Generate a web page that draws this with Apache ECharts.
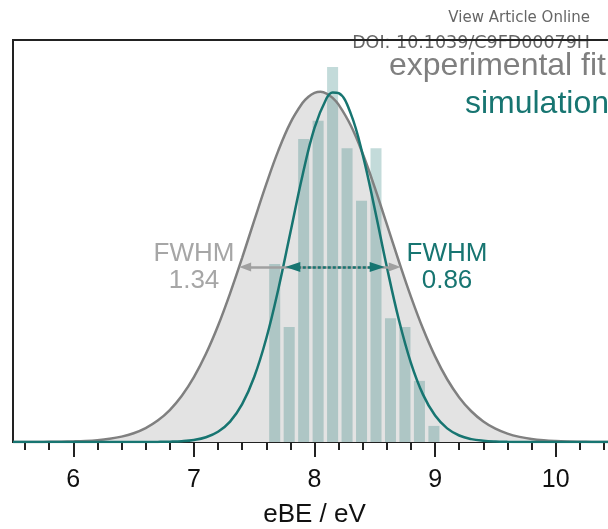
<!DOCTYPE html>
<html>
<head>
<meta charset="utf-8">
<script src="https://cdn.jsdelivr.net/npm/echarts@6/dist/echarts.min.js"></script>
<style>html,body{margin:0;padding:0;background:#fff}#c{width:608px;height:529px}</style>
</head>
<body>
<div id="c"></div>
<script>
// ---- data ----
const majorTicks = [6, 7, 8, 9, 10];
const minorTicks = [5.6, 5.8, 6.2, 6.4, 6.6, 6.8, 7.2, 7.4, 7.6, 7.8, 8.2, 8.4, 8.6, 8.8, 9.2, 9.4, 9.6, 9.8, 10.2, 10.4];
const barCentres = [7.67, 7.79, 7.91, 8.03, 8.15, 8.27, 8.39, 8.51, 8.63, 8.75, 8.87, 8.99];
const barHeights = [0.443, 0.286, 0.754, 0.799, 0.933, 0.731, 0.600, 0.731, 0.308, 0.286, 0.152, 0.040];
const expX = [5.5,5.6,5.7,5.8,5.9,6.0,6.1,6.2,6.3,6.4,6.5,6.6,6.7,6.8,6.9,7.0,7.1,7.2,7.3,7.4,7.5,7.6,7.7,7.8,7.9,7.95,8.0,8.05,8.1,8.15,8.2,8.3,8.4,8.5,8.6,8.7,8.8,8.9,9.0,9.1,9.2,9.3,9.4,9.5,9.6,9.7,9.8,9.9,10.0,10.1,10.2,10.3,10.4,10.5];
const expY = [0.0000,0.0001,0.0002,0.0004,0.0007,0.0014,0.0025,0.0045,0.0079,0.0133,0.0218,0.0346,0.0533,0.0795,0.1150,0.1613,0.2193,0.2891,0.3697,0.4582,0.5506,0.6415,0.7248,0.7939,0.8431,0.8590,0.8683,0.8710,0.8669,0.8562,0.8393,0.7878,0.7170,0.6327,0.5412,0.4490,0.3612,0.2817,0.2130,0.1561,0.1110,0.0765,0.0511,0.0331,0.0208,0.0127,0.0075,0.0043,0.0024,0.0013,0.0007,0.0003,0.0002,0.0001];
const simX = [5.5,6.0,6.5,6.6,6.7,6.8,6.9,7.0,7.1,7.2,7.3,7.4,7.5,7.6,7.7,7.8,7.9,8.0,8.1,8.15,8.2,8.3,8.4,8.5,8.6,8.7,8.8,8.9,9.0,9.1,9.2,9.3,9.4,9.5,9.6,9.7,10.0,10.5];
const simY = [0,0,0,0.0001,0.0003,0.0008,0.0020,0.0051,0.0119,0.0255,0.0508,0.0941,0.1616,0.2574,0.3802,0.5210,0.6625,0.7815,0.8552,0.8697,0.8680,0.8175,0.7142,0.5788,0.4351,0.3035,0.1964,0.1179,0.0657,0.0339,0.0162,0.0072,0.0030,0.0011,0.0004,0.0001,0,0];
const expCentre = 8.045, expFWHM = 1.34, expHalf = 0.4355;
const simCentre = 8.17, simFWHM = 0.86, simHalf = 0.4355;
const legendNames = ['experimental fit', 'simulation'];
const fwhmTitle = 'FWHM';
const fwhmValues = ['1.34', '0.86'];

const zip = (a, b) => a.map((v, i) => [v, b[i]]);
const GREY = '#808080', TEAL = '#177571';

const chart = echarts.init(document.getElementById('c'), null, {renderer: 'canvas'});
chart.setOption({
  animation: false,
  grid: {left: 13, top: 40, right: -8, bottom: 87, outerBoundsMode: 'none', containLabel: false,
         show: true, borderColor: '#222', borderWidth: 2, backgroundColor: 'transparent'},
  xAxis: [{
    type: 'value', min: 5.5, max: 10.5,
    name: 'eBE / eV', nameLocation: 'middle', nameGap: 60,
    nameTextStyle: {fontFamily: 'Liberation Sans', fontSize: 26, color: '#111'},
    axisLine: {show: true, lineStyle: {color: '#222', width: 2}},
    axisTick: {show: true, inside: false, length: 15, customValues: majorTicks, lineStyle: {color: '#222', width: 2}},
    axisLabel: {show: true, customValues: majorTicks, margin: 26, fontFamily: 'Liberation Sans', fontSize: 25, color: '#111'},
    splitLine: {show: false}
  }, {
    type: 'value', min: 5.5, max: 10.5, position: 'bottom',
    axisLine: {show: false},
    axisTick: {show: true, inside: false, length: 8, customValues: minorTicks, lineStyle: {color: '#222', width: 2}},
    axisLabel: {show: false},
    splitLine: {show: false}
  }],
  yAxis: {type: 'value', min: 0, max: 1, show: false},
  series: [
    {type: 'line', z: 1, data: zip(expX, expY), smooth: 0.4, showSymbol: false, symbol: 'none',
     lineStyle: {width: 0, opacity: 0}, areaStyle: {color: '#e3e3e3', opacity: 1}},
    {type: 'bar', z: 2, data: zip(barCentres, barHeights), barWidth: 11,
     itemStyle: {color: 'rgba(14,112,108,0.25)'}},
    {type: 'line', z: 3, data: zip(expX, expY), smooth: 0.4, showSymbol: false, symbol: 'none',
     lineStyle: {color: GREY, width: 2.5},
     markLine: {silent: true, symbol: ['triangle', 'triangle'], symbolSize: [9, 12],
       label: {show: false},
       lineStyle: {color: '#a0a0a0', width: 2.5, type: 'solid'},
       data: [[{coord: [expCentre - expFWHM / 2 + 0.05, expHalf]}, {coord: [expCentre + expFWHM / 2 - 0.05, expHalf]}]]}},
    {type: 'line', z: 4, data: zip(simX, simY), smooth: 0.4, showSymbol: false, symbol: 'none',
     lineStyle: {color: TEAL, width: 2.5},
     markLine: {silent: true, symbol: ['triangle', 'triangle'], symbolSize: [10, 15],
       label: {show: false},
       lineStyle: {color: TEAL, width: 2.5, type: [3, 2]},
       data: [[{coord: [simCentre - simFWHM / 2 + 0.08, simHalf]}, {coord: [simCentre + simFWHM / 2 - 0.08, simHalf]}]]}}
  ],
  graphic: [
    {type: 'text', x: 590, y: 18, style: {text: 'View Article Online', align: 'right', verticalAlign: 'middle', fontFamily: 'DejaVu Sans', fontSize: 15, fill: '#666'}},
    {type: 'text', x: 590, y: 43, z: -1, style: {text: 'DOI: 10.1039/C9FD00079H', align: 'right', verticalAlign: 'middle', fontFamily: 'DejaVu Sans', fontSize: 17.5, fill: '#666'}},
    {type: 'text', x: 606, y: 66, style: {text: legendNames[0], align: 'right', verticalAlign: 'middle', fontFamily: 'Liberation Sans', fontSize: 32, fill: '#7f7f7f'}},
    {type: 'text', x: 609, y: 104, style: {text: legendNames[1], align: 'right', verticalAlign: 'middle', fontFamily: 'Liberation Sans', fontSize: 32, fill: TEAL}},
    {type: 'text', x: 194, y: 254, style: {text: fwhmTitle, align: 'center', verticalAlign: 'middle', fontFamily: 'Liberation Sans', fontSize: 26, fill: '#a6a6a6'}},
    {type: 'text', x: 194, y: 281, style: {text: fwhmValues[0], align: 'center', verticalAlign: 'middle', fontFamily: 'Liberation Sans', fontSize: 26, fill: '#a6a6a6'}},
    {type: 'text', x: 447, y: 254, style: {text: fwhmTitle, align: 'center', verticalAlign: 'middle', fontFamily: 'Liberation Sans', fontSize: 26, fill: TEAL}},
    {type: 'text', x: 447, y: 281, style: {text: fwhmValues[1], align: 'center', verticalAlign: 'middle', fontFamily: 'Liberation Sans', fontSize: 26, fill: TEAL}}
  ]
});
</script>
</body>
</html>
